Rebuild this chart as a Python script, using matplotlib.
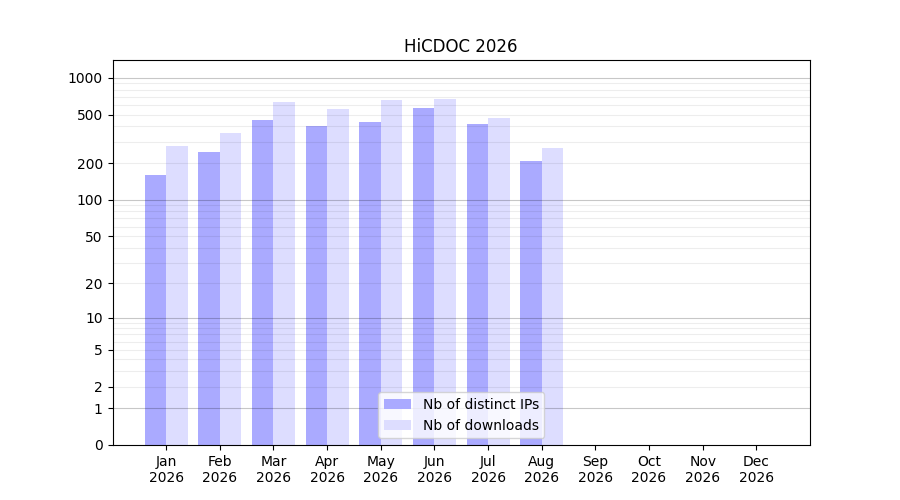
import numpy as np
import matplotlib.pyplot as plt

months = ['Jan', 'Feb', 'Mar', 'Apr', 'May', 'Jun',
          'Jul', 'Aug', 'Sep', 'Oct', 'Nov', 'Dec']
year = 2026
nb_ips = [161, 245, 448, 400, 439, 572, 423, 210, 0, 0, 0, 0]
nb_downloads = [279, 351, 629, 551, 653, 677, 473, 264, 0, 0, 0, 0]

def fwd(v):
    return np.log10(1 + np.clip(v, 0, None))

def inv(v):
    return 10 ** v - 1

fig, ax = plt.subplots(figsize=(9, 5), dpi=100)
x = np.arange(len(months))

ax.bar(x - 0.2, nb_ips, width=0.4, color='#aaaaff', label='Nb of distinct IPs')
ax.bar(x + 0.2, nb_downloads, width=0.4, color='#ddddff', label='Nb of downloads')

ax.set_yscale('function', functions=(fwd, inv))
ax.set_ylim(0, 1400)
ax.set_xlim(-1, 12)

major = [1, 10, 100, 1000]
minor = [m * d for d in (1, 10, 100) for m in range(2, 10)]
ax.set_yticks([0, 1, 2, 5, 10, 20, 50, 100, 200, 500, 1000])
ax.set_yticklabels(['0', '1', '2', '5', '10', '20', '50', '100', '200', '500', '1000'])
ax.set_yticks(minor, minor=True)
ax.tick_params(axis='y', which='minor', length=0)
for v in major:
    ax.axhline(v, color='black', alpha=0.22, lw=0.8, zorder=1.5)
for v in minor:
    ax.axhline(v, color='black', alpha=0.07, lw=0.8, zorder=1.5)

ax.set_xticks(x)
ax.set_xticklabels([f'{m}\n{year}' for m in months])
ax.set_title(f'HiCDOC {year}')
ax.legend(loc='lower center')

fig.savefig('out.png')
